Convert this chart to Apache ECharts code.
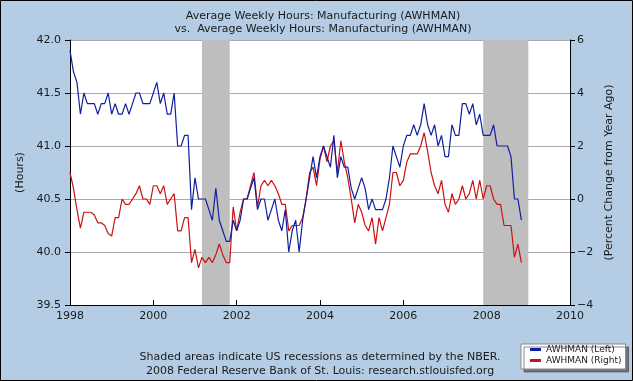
<!DOCTYPE html>
<html>
<head>
<meta charset="utf-8">
<script src="https://cdn.jsdelivr.net/npm/echarts@6/dist/echarts.min.js"></script>
<style>
html,body{margin:0;padding:0;background:#B4CDE4;}
#c{width:633px;height:381px;}
</style>
</head>
<body>
<div id="c"></div>
<script>
// ---- data ----
const startMonth = '1998-01';
const hours = [
41.9,41.7,41.6,41.3,41.5,41.4,41.4,41.4,41.3,41.4,41.4,41.5,
41.3,41.4,41.3,41.3,41.4,41.3,41.4,41.5,41.5,41.4,41.4,41.4,
41.5,41.6,41.4,41.5,41.3,41.3,41.5,41.0,41.0,41.1,41.1,40.4,
40.7,40.5,40.5,40.5,40.4,40.3,40.6,40.3,40.2,40.1,40.1,40.3,
40.2,40.3,40.5,40.5,40.6,40.7,40.4,40.5,40.5,40.3,40.4,40.5,
40.3,40.2,40.4,40.0,40.2,40.3,40.0,40.3,40.5,40.7,40.9,40.7,
40.9,41.0,40.9,40.8,41.1,40.7,40.9,40.8,40.8,40.6,40.5,40.6,
40.7,40.6,40.4,40.5,40.4,40.4,40.4,40.5,40.7,41.0,40.9,40.8,
41.0,41.1,41.1,41.2,41.1,41.2,41.4,41.2,41.1,41.2,41.0,41.1,
40.9,40.9,41.2,41.1,41.1,41.4,41.4,41.3,41.4,41.2,41.3,41.1,
41.1,41.1,41.2,41.0,41.0,41.0,41.0,40.9,40.5,40.5,40.3
];
const pctChange = [
1.0,0.4,-0.4,-1.1,-0.5,-0.5,-0.5,-0.6,-0.9,-0.9,-1.0,-1.3,
-1.4,-0.7,-0.7,0.0,-0.2,-0.2,0.0,0.2,0.5,0.0,0.0,-0.2,
0.5,0.5,0.2,0.5,-0.2,0.0,0.2,-1.2,-1.2,-0.7,-0.7,-2.4,
-1.9,-2.6,-2.2,-2.4,-2.2,-2.4,-2.1,-1.7,-2.1,-2.4,-2.4,-0.3,
-1.2,-0.5,0.0,0.0,0.5,1.0,-0.3,0.5,0.7,0.5,0.7,0.5,
0.2,-0.2,-0.2,-1.2,-1.0,-1.0,-1.0,-0.7,0.0,1.0,1.2,0.5,
1.5,2.0,1.4,2.0,2.2,1.0,2.2,1.4,0.8,0.0,-0.9,-0.2,
-0.5,-1.0,-1.2,-0.7,-1.7,-0.7,-1.2,-0.7,-0.2,1.0,1.0,0.5,
0.7,1.4,1.7,1.7,1.7,2.0,2.5,1.8,1.0,0.5,0.2,0.7,
-0.2,-0.5,0.2,-0.2,0.0,0.5,0.0,0.2,0.7,0.0,0.7,0.0,
0.5,0.5,0.0,-0.2,-0.2,-1.0,-1.0,-1.0,-2.2,-1.7,-2.4
];
const recessions = [['2001-03','2001-11'],['2007-12','2009-01']];
const xTicks = [1998,2000,2002,2004,2006,2008,2010];
const leftTicks = [39.5,40.0,40.5,41.0,41.5,42.0];
const rightTicks = [-4,-2,0,2,4,6];

// ---- helpers ----
function ym(s){const p=s.split('-');return +p[0]+(+p[1]-1)/12;}
const x0 = ym(startMonth);
const blueData = hours.map((v,i)=>[x0+i/12,v]);
const redData = pctChange.map((v,i)=>[x0+i/12,v]);
const font = 'DejaVu Sans, Verdana, sans-serif';
const txt = '#1a1a1a';

const chart = echarts.init(document.getElementById('c'));
chart.setOption({
  backgroundColor:'#B4CDE4',
  animation:false,
  textStyle:{fontFamily:font},
  title:[{
    text:'Average Weekly Hours: Manufacturing (AWHMAN)\nvs.  Average Weekly Hours: Manufacturing (AWHMAN)',
    left:318, top:5, textAlign:'center',
    textStyle:{fontSize:11,fontWeight:'normal',color:txt,fontFamily:font,lineHeight:13}
  },{
    text:'Shaded areas indicate US recessions as determined by the NBER.\n2008 Federal Reserve Bank of St. Louis: research.stlouisfed.org',
    left:315, top:345, textAlign:'center',
    textStyle:{fontSize:11,fontWeight:'normal',color:txt,fontFamily:font,lineHeight:14}
  }],
  grid:{left:70,right:63,top:40,bottom:76,show:true,backgroundColor:'#ffffff',borderWidth:0},
  legend:{
    orient:'vertical', left:521, top:344,
    data:['AWHMAN (Left)','AWHMAN (Right)'],
    icon:'rect', itemWidth:11, itemHeight:3, itemGap:2,
    padding:[1,4,4,9],
    backgroundColor:'#ffffff', borderColor:'#888', borderWidth:1,
    shadowColor:'rgba(60,60,60,0.6)', shadowOffsetX:3, shadowOffsetY:3, shadowBlur:0,
    textStyle:{fontSize:9,color:txt,fontFamily:font}
  },
  xAxis:{
    type:'value', min:xTicks[0], max:xTicks[xTicks.length-1], interval:2,
    axisLine:{onZero:false,lineStyle:{color:'#000',width:1}},
    axisTick:{inside:true,length:5,lineStyle:{color:'#000'}},
    axisLabel:{color:txt,fontSize:11,margin:6,formatter:v=>String(v)},
    splitLine:{show:false}
  },
  yAxis:[{
    type:'value', min:leftTicks[0], max:leftTicks[leftTicks.length-1], interval:0.5,
    name:'(Hours)', nameLocation:'middle', nameGap:44, nameRotate:90,
    nameTextStyle:{fontSize:11,color:txt,fontFamily:font},
    axisLine:{show:true,onZero:false,lineStyle:{color:'#000',width:1}},
    axisTick:{show:true,length:5,lineStyle:{color:'#000'}},
    axisLabel:{color:txt,fontSize:11,margin:9,formatter:v=>v.toFixed(1)},
    splitLine:{show:true,lineStyle:{color:'#aaaaaa',width:1}}
  },{
    type:'value', min:rightTicks[0], max:rightTicks[rightTicks.length-1], interval:2,
    name:'(Percent Change from Year Ago)', nameLocation:'middle', nameGap:33, nameRotate:90,
    nameTextStyle:{fontSize:11,color:txt,fontFamily:font},
    axisLine:{show:true,onZero:false,lineStyle:{color:'#000',width:1}},
    axisTick:{show:true,length:5,lineStyle:{color:'#000'}},
    axisLabel:{color:txt,fontSize:11,margin:7,formatter:v=>v<0?'\u2212'+Math.abs(v):String(v)},
    splitLine:{show:false}
  }],
  series:[{
    name:'AWHMAN (Left)', type:'line', yAxisIndex:0, data:blueData,
    showSymbol:false, symbol:'none', z:3,
    lineStyle:{color:'#1020A0',width:1.2}, itemStyle:{color:'#1020A0'},
    markArea:{silent:true, itemStyle:{color:'#BEBEBE'},
      data:recessions.map(r=>[{xAxis:ym(r[0])},{xAxis:ym(r[1])}])}
  },{
    name:'AWHMAN (Right)', type:'line', yAxisIndex:1, data:redData,
    showSymbol:false, symbol:'none', z:2,
    lineStyle:{color:'#CC1111',width:1.2}, itemStyle:{color:'#CC1111'}
  }],
  graphic:[{type:'rect',shape:{x:0.5,y:0.5,width:632,height:380},style:{fill:'none',stroke:'#000',lineWidth:1},z:100}]
});
</script>
</body>
</html>
